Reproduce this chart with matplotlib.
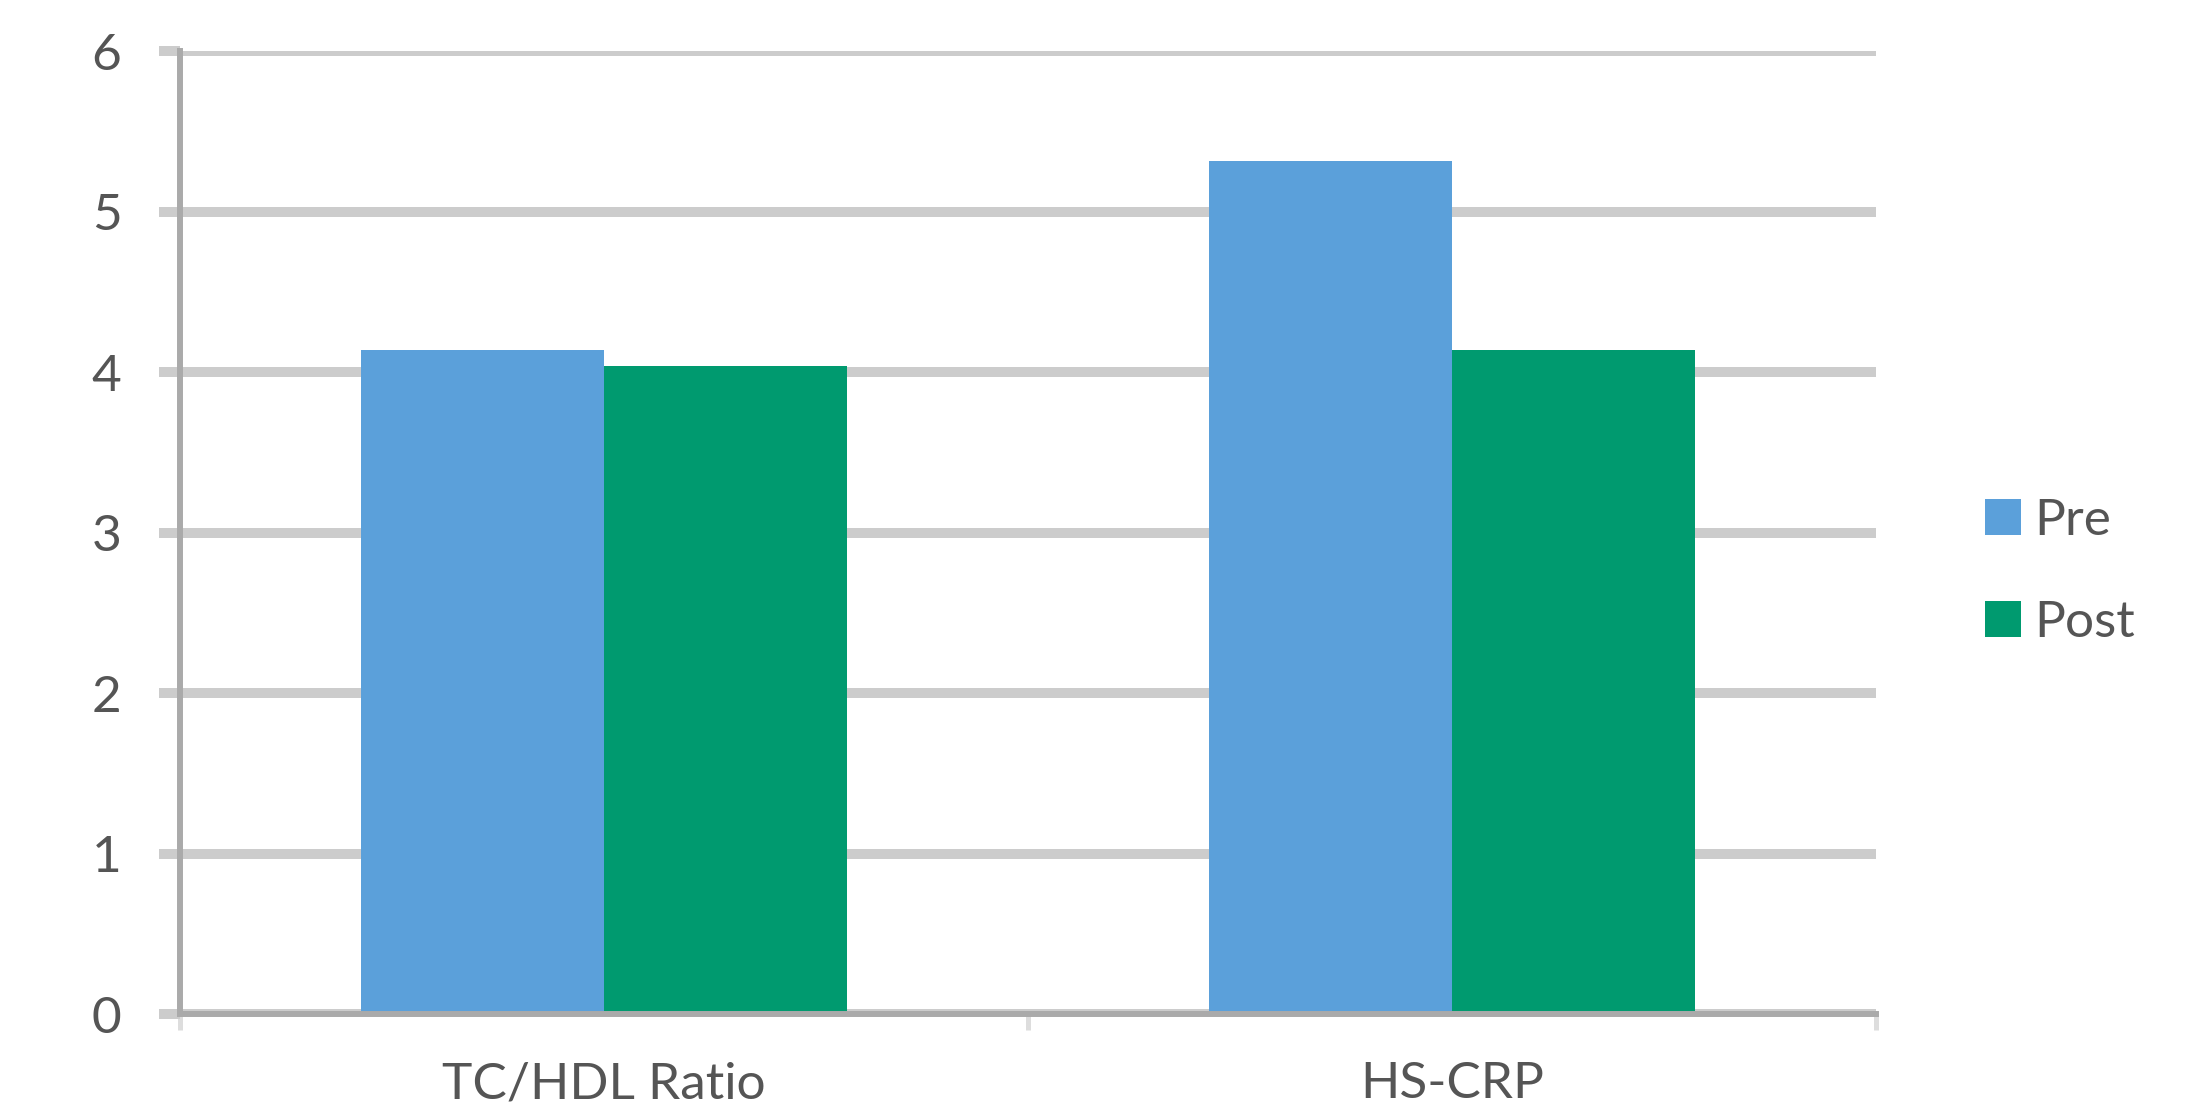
import numpy as np
import matplotlib
matplotlib.use("Agg")
import matplotlib.pyplot as plt
from matplotlib.ticker import FixedLocator

categories = ["TC/HDL Ratio", "HS-CRP"]
series_names = ["Pre", "Post"]
pre_values = [4.14, 5.32]
post_values = [4.04, 4.14]
y_ticks = [0, 1, 2, 3, 4, 5, 6]

colors = {"Pre": "#5ba0da", "Post": "#009a6f"}
text_color = "#555555"

plt.rcParams["font.family"] = ["Lato", "DejaVu Sans"]

fig = plt.figure(figsize=(22.08, 11.04), dpi=100)
ax = fig.add_axes([0.0815, 0.0815, 0.7681, 0.8719])

x = np.arange(len(categories))
bar_w = 0.2866
ax.bar(x - bar_w / 2, pre_values, width=bar_w, color=colors["Pre"], label=series_names[0], zorder=2)
ax.bar(x + bar_w / 2, post_values, width=bar_w, color=colors["Post"], label=series_names[1], zorder=2)

ax.set_xlim(-0.5, len(categories) - 0.5)
ax.set_ylim(0, 6)

# horizontal gridlines
ax.set_yticks(y_ticks)
ax.yaxis.grid(True, color="#cccccc", linewidth=7.2, zorder=1)
ax.set_axisbelow(True)

# spines
for s in ["top", "right"]:
    ax.spines[s].set_visible(False)
ax.spines["left"].set_color("#aaaaaa")
ax.spines["left"].set_linewidth(4.3)
ax.spines["bottom"].set_color("#aaaaaa")
ax.spines["bottom"].set_linewidth(4.3)
ax.spines["bottom"].set_zorder(3)

# y ticks
ax.tick_params(axis="y", direction="out", length=15, width=7.2, color="#cccccc",
               pad=27, labelsize=37, labelcolor=text_color)

# x ticks: labels at category centres, marks at category boundaries
ax.set_xticks(x)
ax.set_xticklabels(categories)
ax.xaxis.set_minor_locator(FixedLocator(np.arange(-0.5, len(categories), 1.0)))
ax.tick_params(axis="x", which="major", length=0, pad=34, labelsize=37, labelcolor=text_color)
ax.tick_params(axis="x", which="minor", direction="out", length=11.5, width=3.6, color="#dddddd")

leg = ax.legend(loc="center left", bbox_to_anchor=(0.899, 0.482), bbox_transform=fig.transFigure,
                frameon=False, fontsize=37, handlelength=0.7, handleheight=0.7,
                handletextpad=0.25, labelspacing=1.1, labelcolor=text_color,
                borderpad=0, borderaxespad=0)

fig.savefig("out.png", dpi=100, facecolor="white")
